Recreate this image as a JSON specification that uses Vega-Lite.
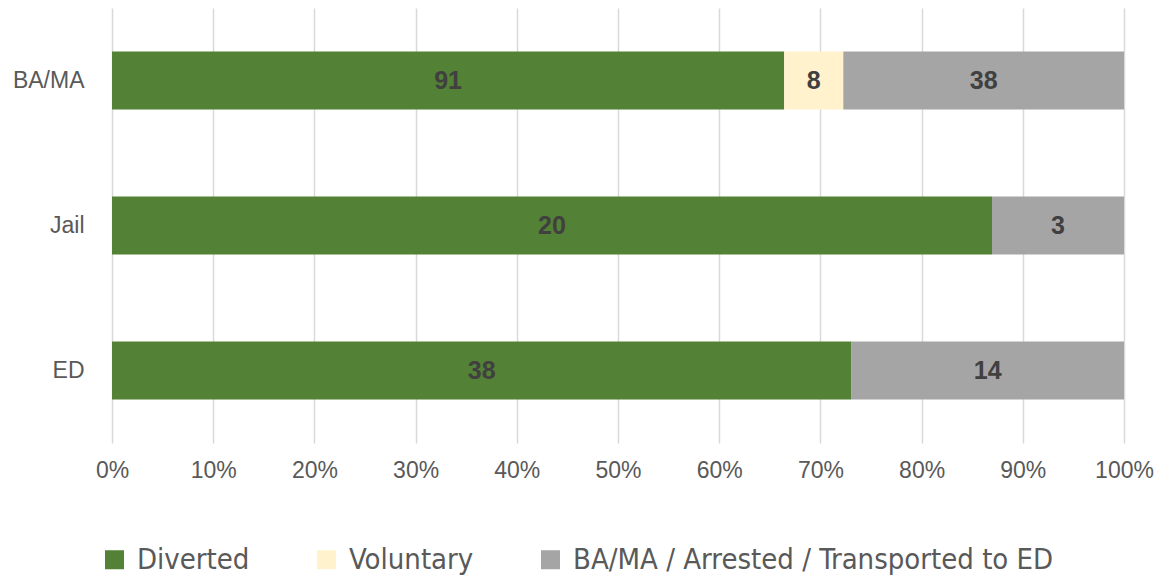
{
  "$schema": "https://vega.github.io/schema/vega-lite/v6.json",
  "width": 1012,
  "height": 435,
  "autosize": {"type": "none"},
  "padding": {"left": 112, "top": 8, "right": 43, "bottom": 137},
  "background": "white",
  "config": {
    "view": {"stroke": null},
    "font": "Liberation Sans",
    "axis": {"labelFont": "Liberation Sans"}
  },
  "data": {
    "values": [
      {"setting": "BA/MA", "outcome": "Diverted", "count": 91},
      {"setting": "BA/MA", "outcome": "Voluntary", "count": 8},
      {"setting": "BA/MA", "outcome": "BA/MA / Arrested / Transported to ED", "count": 38},
      {"setting": "Jail", "outcome": "Diverted", "count": 20},
      {"setting": "Jail", "outcome": "Voluntary", "count": 0},
      {"setting": "Jail", "outcome": "BA/MA / Arrested / Transported to ED", "count": 3},
      {"setting": "ED", "outcome": "Diverted", "count": 38},
      {"setting": "ED", "outcome": "Voluntary", "count": 0},
      {"setting": "ED", "outcome": "BA/MA / Arrested / Transported to ED", "count": 14}
    ]
  },
  "transform": [
    {"calculate": "indexof(['Diverted', 'Voluntary', 'BA/MA / Arrested / Transported to ED'], datum.outcome)", "as": "stackOrder"}
  ],
  "encoding": {
    "y": {
      "field": "setting",
      "type": "nominal",
      "sort": ["BA/MA", "Jail", "ED"],
      "scale": {"paddingInner": 0.6, "paddingOuter": 0.3},
      "axis": {
        "title": null,
        "domain": false,
        "ticks": false,
        "labelFontSize": 23,
        "labelColor": "#595959",
        "labelPadding": 28,
        "grid": false
      }
    }
  },
  "layer": [
    {
      "mark": {"type": "bar"},
      "encoding": {
        "x": {
          "field": "count",
          "type": "quantitative",
          "stack": "normalize",
          "scale": {"domain": [0, 1]},
          "axis": {
            "title": null,
            "format": "%",
            "values": [0, 0.1, 0.2, 0.3, 0.4, 0.5, 0.6, 0.7, 0.8, 0.9, 1],
            "labelOverlap": false,
            "labelFlush": false,
            "domain": false,
            "ticks": false,
            "grid": true,
            "gridColor": "#d9d9d9",
            "gridWidth": 1.5,
            "labelFontSize": 23,
            "labelColor": "#595959",
            "labelPadding": 16
          }
        },
        "order": {"field": "stackOrder", "type": "quantitative", "sort": "ascending"},
        "color": {
          "field": "outcome",
          "type": "nominal",
          "sort": ["Diverted", "Voluntary", "BA/MA / Arrested / Transported to ED"],
          "scale": {
            "domain": ["Diverted", "Voluntary", "BA/MA / Arrested / Transported to ED"],
            "range": ["#538135", "#FFF2CC", "#A5A5A5"]
          },
          "legend": {
            "title": null,
            "orient": "none",
            "direction": "horizontal",
            "legendX": -12,
            "legendY": 537,
            "symbolType": "square",
            "symbolSize": 361,
            "symbolStrokeWidth": 0,
            "labelFont": "DejaVu Sans Condensed",
            "labelFontSize": 29,
            "labelColor": "#595959",
            "labelOffset": 8,
            "columnPadding": 62,
            "labelLimit": 600
          }
        }
      }
    },
    {
      "transform": [{"filter": "datum.count > 0"}],
      "mark": {"type": "text", "fontWeight": "bold", "fontSize": 25, "color": "#404040", "font": "Liberation Sans"},
      "encoding": {
        "x": {
          "field": "count",
          "type": "quantitative",
          "stack": "normalize",
          "bandPosition": 0.5
        },
        "order": {"field": "stackOrder", "type": "quantitative", "sort": "ascending"},
        "detail": {"field": "outcome", "type": "nominal"},
        "text": {"field": "count", "type": "quantitative"}
      }
    }
  ]
}
